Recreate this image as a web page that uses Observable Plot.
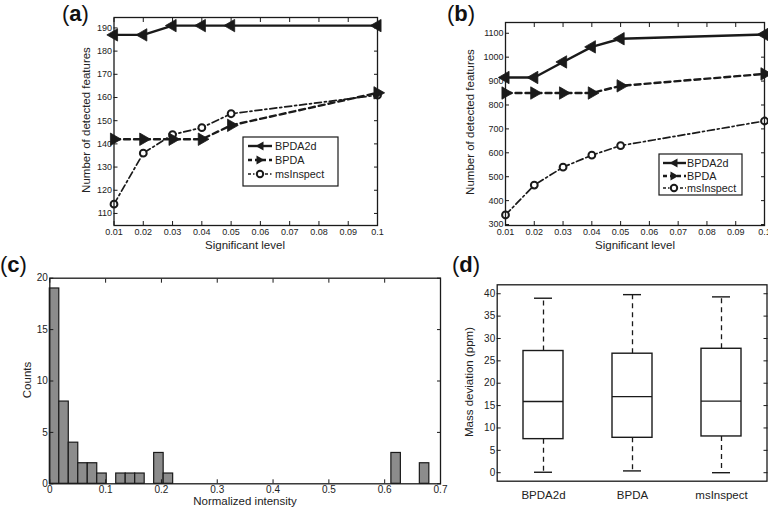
<!DOCTYPE html>
<html><head><meta charset="utf-8">
<script src="https://cdn.jsdelivr.net/npm/d3@7"></script>
<script src="https://cdn.jsdelivr.net/npm/@observablehq/plot@0.6"></script>
<style>
body{margin:0;background:#fff;font-family:"Liberation Sans",Arial,sans-serif;}
#root{position:relative;width:768px;height:509px;overflow:hidden;background:#fff;}
.panel{position:absolute;}
.lbl{position:absolute;white-space:nowrap;color:#222;font-size:11.5px;line-height:1;}
.rot{transform:translate(-50%,-50%) rotate(-90deg);}
.hor{transform:translate(-50%,-50%);}
.plab{position:absolute;font-size:22px;color:#111;white-space:nowrap;line-height:1;transform:translateY(-50%);}
.plab b{font-weight:bold;}
</style></head><body><div id="root"></div>
<script>
// ---- data ----
const sigLevels = [0.01, 0.02, 0.03, 0.04, 0.05, 0.1];
const aBPDA2d = [187, 187, 191, 191, 191, 191];
const aBPDA = [142, 142, 142, 142, 148, 162];
const aMsInspect = [114, 136, 144, 147, 153, 161];
const bBPDA2d = [915, 915, 980, 1043, 1077, 1095];
const bBPDA = [850, 850, 850, 850, 880, 930];
const bMsInspect = [340, 465, 540, 590, 630, 733];
const sigTicks = [0.01, 0.02, 0.03, 0.04, 0.05, 0.06, 0.07, 0.08, 0.09, 0.1];
const sigTickLabels = ["0.01", "0.02", "0.03", "0.04", "0.05", "0.06", "0.07", "0.08", "0.09", "0.1"];
const aYTicks = [110, 120, 130, 140, 150, 160, 170, 180, 190];
const bYTicks = [300, 400, 500, 600, 700, 800, 900, 1000, 1100];
const seriesNames = ["BPDA2d", "BPDA", "msInspect"];

const histBinStart = [0, 0.017, 0.034, 0.051, 0.068, 0.085, 0.119, 0.136, 0.153, 0.187, 0.204, 0.612, 0.663];
const histCounts = [19, 8, 4, 2, 2, 1, 1, 1, 1, 3, 1, 3, 2];
const histBinWidth = 0.017;
const histXTicks = [0, 0.1, 0.2, 0.3, 0.4, 0.5, 0.6, 0.7];
const histYTicks = [0, 5, 10, 15, 20];

const methods = ["BPDA2d", "BPDA", "msInspect"];
const boxMin = [0.1, 0.4, 0.0];
const boxQ1 = [7.5, 7.8, 8.1];
const boxMedian = [15.9, 17.0, 16.0];
const boxQ3 = [27.2, 26.6, 27.7];
const boxMax = [39.0, 39.8, 39.3];
const boxYTicks = [0, 5, 10, 15, 20, 25, 30, 35, 40];

// ---- helpers ----
const root = document.getElementById("root");
const INK = "#1a1a1a";
function place(node, left, top) {
  const d = document.createElement("div");
  d.className = "panel";
  d.style.left = left + "px";
  d.style.top = top + "px";
  d.appendChild(node);
  root.appendChild(d);
}
function text(str, x, y, cls, size) {
  const d = document.createElement("div");
  d.className = "lbl " + cls;
  d.style.left = x + "px";
  d.style.top = y + "px";
  if (size) d.style.fontSize = size + "px";
  d.textContent = str;
  root.appendChild(d);
}
function panelLabel(letter, x, y) {
  const d = document.createElement("div");
  d.className = "plab";
  d.style.left = x + "px";
  d.style.top = y + "px";
  d.innerHTML = "(<b>" + letter + "</b>)";
  root.appendChild(d);
}
const baseStyle = (fs) => ({fontFamily: "'Liberation Sans', Arial, sans-serif", fontSize: fs + "px", color: "#222", background: "transparent", overflow: "visible"});
const plain = d => String(d);

// ---- line panels ----
function linePanel(o) {
  const rows = sigLevels.map((x, i) => ({x, s1: o.s[0][i], s2: o.s[1][i], s3: o.s[2][i]}));
  return Plot.plot({
    width: o.width, height: o.height,
    marginLeft: o.mL, marginRight: o.mR, marginTop: o.mT, marginBottom: o.mB,
    style: baseStyle(9),
    x: {domain: [0.01, 0.1]},
    y: {domain: o.yDomain},
    marks: [
      Plot.axisX({ticks: sigTicks, tickFormat: d => sigTickLabels[sigTicks.indexOf(d)], tickSize: -4, tickPadding: 7, label: null, stroke: INK}),
      Plot.axisX({anchor: "top", ticks: sigTicks, tickFormat: () => "", tickSize: -4, label: null, stroke: INK}),
      Plot.axisY({ticks: o.yTicks, tickFormat: plain, tickSize: -4, tickPadding: 6, label: null, stroke: INK}),
      Plot.axisY({anchor: "right", ticks: o.yTicks, tickFormat: () => "", tickSize: -4, label: null, stroke: INK}),
      Plot.line(rows, {x: "x", y: "s3", stroke: INK, strokeWidth: 1.7, strokeDasharray: "7,3,2,3"}),
      Plot.line(rows, {x: "x", y: "s2", stroke: INK, strokeWidth: 2.4, strokeDasharray: "6,4"}),
      Plot.line(rows, {x: "x", y: "s1", stroke: INK, strokeWidth: 2.4}),
      Plot.dot(rows, {x: "x", y: "s3", symbol: "circle", r: 3.4, fill: "white", stroke: INK, strokeWidth: 2}),
      Plot.dot(rows, {x: "x", y: "s2", symbol: "triangle", r: 4.6, rotate: 90, fill: INK, stroke: INK, strokeWidth: 0.8}),
      Plot.dot(rows, {x: "x", y: "s1", symbol: "triangle", r: 4.6, rotate: -90, fill: INK, stroke: INK, strokeWidth: 0.8}),
      Plot.frame({stroke: INK, strokeWidth: 1.3})
    ]
  });
}

place(linePanel({width: 384, height: 250, mL: 113.5, mR: 7, mT: 17, mB: 25,
  yDomain: [104.8, 194.5], yTicks: aYTicks, s: [aBPDA2d, aBPDA, aMsInspect]}), 0, 0);
place(linePanel({width: 384, height: 250, mL: 121, mR: 4, mT: 22, mB: 25,
  yDomain: [296, 1145], yTicks: bYTicks, s: [bBPDA2d, bBPDA, bMsInspect]}), 384, 0);

// ---- histogram ----
const histRows = histBinStart.map((x0, i) => ({x0, x1: x0 + histBinWidth, count: histCounts[i]}));
place(Plot.plot({
  width: 460, height: 259, marginLeft: 49.3, marginRight: 20, marginTop: 27.7, marginBottom: 25.7,
  style: baseStyle(10),
  x: {domain: [0, 0.7]},
  y: {domain: [0, 20]},
  marks: [
    Plot.rectY(histRows, {x1: "x0", x2: "x1", y: "count", fill: "#8c8c8c", stroke: INK, strokeWidth: 1.2}),
    Plot.axisX({ticks: histXTicks, tickFormat: plain, tickSize: -4, tickPadding: 6, label: null, stroke: INK}),
    Plot.axisX({anchor: "top", ticks: histXTicks, tickFormat: () => "", tickSize: -4, label: null, stroke: INK}),
    Plot.axisY({ticks: histYTicks, tickFormat: plain, tickSize: -4, tickPadding: 6, label: null, stroke: INK}),
    Plot.axisY({anchor: "right", ticks: histYTicks, tickFormat: () => "", tickSize: -4, label: null, stroke: INK}),
    Plot.frame({stroke: INK, strokeWidth: 1.3})
  ]
}), 0, 250);

// ---- box plot ----
const boxRows = methods.map((m, i) => ({m, min: boxMin[i], q1: boxQ1[i], med: boxMedian[i], q3: boxQ3[i], max: boxMax[i]}));
place(Plot.plot({
  width: 308, height: 259, marginLeft: 36.7, marginRight: 1.5, marginTop: 34.3, marginBottom: 28.3,
  style: baseStyle(10),
  x: {type: "band", domain: methods, paddingInner: 0.5556, paddingOuter: 0.2778},
  y: {domain: [-1.9, 42]},
  marks: [
    Plot.ruleX(boxRows, {x: "m", y1: "q3", y2: "max", stroke: INK, strokeWidth: 1.3, strokeDasharray: "5,4"}),
    Plot.ruleX(boxRows, {x: "m", y1: "q1", y2: "min", stroke: INK, strokeWidth: 1.3, strokeDasharray: "5,4"}),
    Plot.barY(boxRows, {x: "m", y1: "q1", y2: "q3", fill: "white", stroke: INK, strokeWidth: 1.4, inset: 0}),
    Plot.tickY(boxRows, {x: "m", y: "med", stroke: INK, strokeWidth: 1.4}),
    Plot.tickY(boxRows, {x: "m", y: "max", stroke: INK, strokeWidth: 1.4, inset: 11}),
    Plot.tickY(boxRows, {x: "m", y: "min", stroke: INK, strokeWidth: 1.4, inset: 11}),
    Plot.axisX({tickSize: 0, tickPadding: 10, label: null, fontSize: 11.5}),
    Plot.axisY({ticks: boxYTicks, tickFormat: plain, tickSize: -4, tickPadding: 6, label: null, stroke: INK}),
    Plot.axisY({anchor: "right", ticks: boxYTicks, tickFormat: () => "", tickSize: -4, label: null, stroke: INK}),
    Plot.frame({stroke: INK, strokeWidth: 1.3})
  ]
}), 460, 250);

// ---- titles ----
text("Number of detected features", 87, 120, "rot");
text("Significant level", 245, 245.5, "hor");
text("Number of detected features", 471, 122, "rot");
text("Significant level", 635, 245.5, "hor");
text("Counts", 28, 380, "rot");
text("Normalized intensity", 245, 502, "hor");
text("Mass deviation (ppm)", 470, 382, "rot");
panelLabel("a", 62, 14);
panelLabel("b", 447, 14);
panelLabel("c", 0, 265);
panelLabel("d", 452, 265);

// ---- legends ----
const NS = "http://www.w3.org/2000/svg";
function legend(box, rows, lineX, markX, textX, fs) {
  const svg = document.createElementNS(NS, "svg");
  svg.setAttribute("width", 768); svg.setAttribute("height", 509);
  svg.style.position = "absolute"; svg.style.left = "0"; svg.style.top = "0"; svg.style.pointerEvents = "none";
  const el = (tag, attrs) => { const e = document.createElementNS(NS, tag); for (const k in attrs) e.setAttribute(k, attrs[k]); svg.appendChild(e); return e; };
  el("rect", {x: box[0], y: box[1], width: box[2] - box[0], height: box[3] - box[1], fill: "white", stroke: INK, "stroke-width": 1.2});
  const styles = [
    {w: 2.4, dash: null, mark: "left"},
    {w: 2.4, dash: "4,3", mark: "right"},
    {w: 1.7, dash: "3,2,1.5,2", mark: "circle"}
  ];
  rows.forEach((y, i) => {
    const s = styles[i];
    const ln = el("line", {x1: lineX[0], x2: lineX[1], y1: y, y2: y, stroke: INK, "stroke-width": s.w});
    if (s.dash) ln.setAttribute("stroke-dasharray", s.dash);
    if (s.mark === "circle") el("circle", {cx: markX, cy: y, r: 3.2, fill: "white", stroke: INK, "stroke-width": 2});
    else {
      const d = s.mark === "left" ? -1 : 1;
      el("polygon", {points: `${markX + 4.5 * d},${y} ${markX - 3.5 * d},${y - 4.5} ${markX - 3.5 * d},${y + 4.5}`, fill: INK});
    }
    const t = el("text", {x: textX, y: y, "dominant-baseline": "central", "font-size": fs, fill: "#222", "font-family": "'Liberation Sans', Arial, sans-serif"});
    t.textContent = seriesNames[i];
  });
  root.appendChild(svg);
}
legend([243, 137, 338, 186], [146, 160, 174], [248, 272], 260, 275, 10.8);
legend([659, 154, 742, 195], [163, 176, 188], [663, 686], 674, 687, 10.8);
</script></body></html>
